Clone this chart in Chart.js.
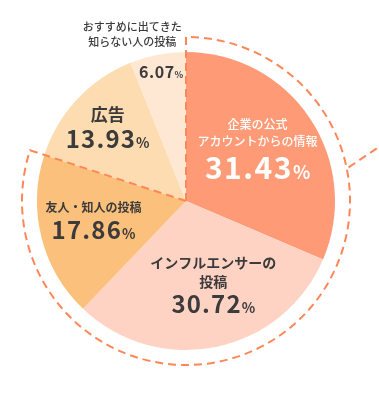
<!DOCTYPE html>
<html>
<head>
<meta charset="utf-8">
<script src="https://cdn.jsdelivr.net/npm/chart.js@4"></script>
<style>
html,body{margin:0;padding:0;background:#fff;}
canvas{display:block;}
</style>
</head>
<body>
<canvas id="c" width="379" height="399"></canvas>
<script>
const categories = ['企業の公式アカウントからの情報', 'インフルエンサーの投稿', '友人・知人の投稿', '広告', 'おすすめに出てきた知らない人の投稿'];
const shares = [31.43, 30.72, 17.86, 13.93, 6.07];
const labelLines = [['企業の公式', 'アカウントからの情報'], ['インフルエンサーの', '投稿'], ['友人・知人の投稿'], ['広告'], ['おすすめに出てきた', '知らない人の投稿']];
const sliceColors = ['#FF9A77', '#FFD3C4', '#FBC07B', '#FDDCB1', '#FFE8D3'];
const highlightedCount = 3;

const JP = '"Noto Sans CJK JP", "Noto Sans", sans-serif';
const DARK = '#3b3b3b';
const DASH = '#FF8757';

// label layout per slice: radius fraction, offsets, line styles
const labelLayout = [
  {rf: 0.60, dx: -3, dy: -4, color: '#fff', lines: [{s: 12, w: 500, y: -23}, {s: 12, w: 500, y: -6}], num: {s: 30, p: 18, ls: 1.5, y: 20}},
  {rf: 0.58, dx: 10, dy: 0, color: DARK, lines: [{s: 14, w: 700, y: -23}, {s: 14, w: 700, y: -4}], num: {s: 24, p: 14, ls: 1.2, y: 19}},
  {rf: 0.64, dx: 0, dy: -11, color: DARK, lines: [{s: 12, w: 700, y: -6}], num: {s: 24, p: 14, ls: 1.2, y: 17}},
  {rf: 0.72, dx: 0, dy: 0, color: DARK, lines: [{s: 17, w: 700, y: -13}], num: {s: 24, p: 14, ls: 1.2, y: 12}},
  {rf: 0.88, dx: 0, dy: 0, color: DARK, lines: [{s: 11, w: 500, y: -45, x: -29}, {s: 11, w: 500, y: -30, x: -29}], num: {s: 16, p: 9, ls: 0.5, y: 0}}
];

const overlay = {
  id: 'overlay',
  afterDatasetsDraw(chart) {
    const ctx = chart.ctx;
    const arcs = chart.getDatasetMeta(0).data;
    const cx = arcs[0].x, cy = arcs[0].y, R = arcs[0].outerRadius;
    // dashed highlight ring
    const rr = R + 15;
    const a0 = arcs[0].startAngle, a1 = arcs[highlightedCount - 1].endAngle;
    ctx.save();
    ctx.strokeStyle = DASH;
    ctx.lineWidth = 2;
    ctx.setLineDash([8, 5]);
    ctx.beginPath();
    ctx.moveTo(cx, cy);
    ctx.lineTo(cx + rr * Math.cos(a0), cy + rr * Math.sin(a0));
    ctx.arc(cx, cy, rr, a0, a1);
    ctx.lineTo(cx, cy);
    ctx.stroke();
    // callout spur
    const sa = a0 + (a1 - a0) * 0.272;
    const sx = cx + (rr + 2) * Math.cos(sa), sy = cy + (rr + 2) * Math.sin(sa);
    ctx.beginPath();
    ctx.moveTo(sx, sy);
    ctx.lineTo(sx + 40, sy - 27);
    ctx.stroke();
    ctx.restore();

    // labels
    ctx.save();
    arcs.forEach((arc, i) => {
      const L = labelLayout[i];
      const mid = (arc.startAngle + arc.endAngle) / 2;
      const ax = cx + Math.cos(mid) * R * L.rf + L.dx;
      const ay = cy + Math.sin(mid) * R * L.rf + L.dy;
      ctx.fillStyle = L.color;
      ctx.textBaseline = 'middle';
      ctx.letterSpacing = '0px';
      labelLines[i].forEach((t, j) => {
        const st = L.lines[j];
        ctx.font = `${st.w} ${st.s}px ${JP}`;
        ctx.textAlign = 'center';
        ctx.fillText(t, ax + (st.x || 0), ay + st.y);
      });
      const numText = shares[i].toFixed(2);
      ctx.letterSpacing = L.num.ls + 'px';
      ctx.font = `700 ${L.num.s}px ${JP}`;
      const w1 = ctx.measureText(numText).width;
      ctx.letterSpacing = '0px';
      ctx.font = `700 ${L.num.p}px ${JP}`;
      const w2 = ctx.measureText('%').width;
      const left = ax - (w1 + w2) / 2;
      const base = ay + L.num.y + L.num.s * 0.36;
      ctx.textAlign = 'left';
      ctx.textBaseline = 'alphabetic';
      ctx.letterSpacing = L.num.ls + 'px';
      ctx.font = `700 ${L.num.s}px ${JP}`;
      ctx.fillText(numText, left, base);
      ctx.letterSpacing = '0px';
      ctx.font = `700 ${L.num.p}px ${JP}`;
      ctx.fillText('%', left + w1, base);
    });
    ctx.restore();
  }
};

new Chart(document.getElementById('c'), {
  type: 'pie',
  data: {
    labels: categories,
    datasets: [{
      data: shares,
      backgroundColor: sliceColors,
      borderWidth: 0
    }]
  },
  options: {
    responsive: false,
    animation: false,
    layout: {padding: {left: 37, right: 44, top: 52, bottom: 49}},
    plugins: {legend: {display: false}, tooltip: {enabled: false}}
  },
  plugins: [overlay]
});
</script>
</body>
</html>
